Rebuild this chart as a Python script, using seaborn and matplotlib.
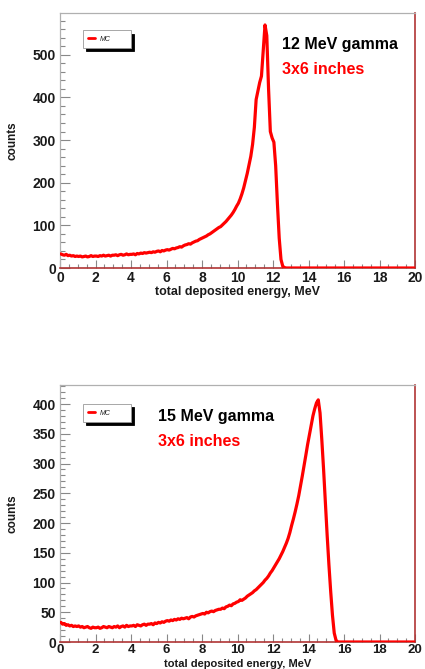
import numpy as np
import pandas as pd
import matplotlib
matplotlib.use("Agg")
import matplotlib.pyplot as plt
from matplotlib.ticker import MultipleLocator
import seaborn as sns

# ---------------- data ----------------
bin_edges_mev = np.linspace(0.0, 20.0, 201)   # 0.1 MeV bins

counts_12mev = [
    33, 31, 30, 32, 29, 30, 28, 29, 27, 28,
    27, 28, 26, 27, 28, 26, 27, 29, 27, 28,
    28, 27, 29, 28, 30, 28, 29, 30, 28, 30,
    30, 31, 29, 31, 32, 30, 31, 33, 31, 32,
    32, 33, 31, 34, 33, 35, 34, 36, 35, 36,
    37, 36, 38, 37, 39, 40, 38, 41, 40, 42,
    43, 42, 44, 46, 45, 47, 48, 50, 49, 52,
    54, 55, 57, 56, 59, 61, 63, 64, 67, 69,
    71, 73, 75, 78, 80, 83, 86, 89, 92, 95,
    97, 101, 105, 109, 114, 119, 124, 130, 137, 145,
    152, 162, 174, 188, 205, 222, 242, 262, 290, 330,
    395, 415, 435, 450, 510, 570, 545, 420, 320, 305,
    295, 240, 150, 70, 20, 4, 1, 0, 0, 0,
    0, 0, 0, 0, 0, 0, 0, 0, 0, 0,
    0, 0, 0, 0, 0, 0, 0, 0, 0, 0,
    0, 0, 0, 0, 0, 0, 0, 0, 0, 0,
    0, 0, 0, 0, 0, 0, 0, 0, 0, 0,
    0, 0, 0, 0, 0, 0, 0, 0, 0, 0,
    0, 0, 0, 0, 0, 0, 0, 0, 0, 0,
    0, 0, 0, 0, 0, 0, 0, 0, 0, 0,
]

counts_15mev = [
    33, 30, 31, 28, 29, 27, 28, 26, 27, 26,
    27, 25, 26, 24, 25, 26, 24, 23, 25, 24,
    24, 25, 23, 24, 26, 25, 24, 26, 25, 24,
    26, 25, 27, 24, 26, 27, 25, 28, 26, 27,
    27, 28, 26, 29, 28, 27, 29, 30, 28, 30,
    30, 31, 29, 32, 31, 33, 32, 34, 33, 35,
    36, 35, 37, 36, 38, 37, 39, 38, 40, 39,
    40, 41, 39, 42, 43, 42, 44, 45, 46, 47,
    48, 47, 50, 49, 51, 52, 51, 53, 54, 55,
    55, 57, 56, 59, 60, 62, 61, 64, 65, 67,
    68, 71, 70, 72, 74, 77, 79, 81, 83, 86,
    88, 91, 94, 97, 100, 104, 107, 111, 116, 120,
    125, 130, 135, 140, 146, 152, 159, 166, 174, 184,
    196, 207, 219, 232, 246, 262, 279, 296, 314, 332,
    348, 365, 380, 392, 402, 407, 385, 340, 290, 235,
    180, 130, 85, 45, 15, 3, 0, 0, 0, 0,
    0, 0, 0, 0, 0, 0, 0, 0, 0, 0,
    0, 0, 0, 0, 0, 0, 0, 0, 0, 0,
    0, 0, 0, 0, 0, 0, 0, 0, 0, 0,
    0, 0, 0, 0, 0, 0, 0, 0, 0, 0,
]

x_tick_labels = ["0", "2", "4", "6", "8", "10", "12", "14", "16", "18", "20"]
panel_titles = ["12 MeV gamma", "15 MeV gamma"]
panel_subtitles = ["3x6 inches", "3x6 inches"]
legend_label = "MC"
x_label = "total deposited energy, MeV"
y_label = "counts"

# ---------------- style ----------------
sns.set_theme(style="white")
plt.rcParams["font.family"] = ["Liberation Sans", "DejaVu Sans"]

centers = 0.5 * (bin_edges_mev[:-1] + bin_edges_mev[1:])

fig = plt.figure(figsize=(4.25, 6.69), dpi=100)
ax_top = fig.add_axes([60 / 425, (669 - 268) / 669, 355 / 425, 255 / 669])
ax_bot = fig.add_axes([60 / 425, (669 - 642) / 669, 355 / 425, 257 / 669])

panels = [
    dict(ax=ax_top, counts=counts_12mev, ymax=598, major=100, minor=20,
         title=panel_titles[0], sub=panel_subtitles[0],
         tx=282, ty=44, sy=69, leg_top=33, ax_top_px=13, ax_bot_px=268,
         xsize=10, xpad=2.0, labsize=9),
    dict(ax=ax_bot, counts=counts_15mev, ymax=432, major=50, minor=10,
         title=panel_titles[1], sub=panel_subtitles[1],
         tx=158, ty=416.5, sy=441, leg_top=407, ax_top_px=385, ax_bot_px=642,
         xsize=9.5, xpad=1.2, labsize=8),
]

for p in panels:
    ax = p["ax"]
    df = pd.DataFrame({"energy": centers, "counts": p["counts"]})
    sns.lineplot(data=df, x="energy", y="counts", ax=ax, color="#ff0000",
                 linewidth=2.3, label=legend_label, estimator=None,
                 zorder=3, clip_on=True)
    ax.set_xlim(0, 20)
    ax.set_ylim(0, p["ymax"])
    ax.xaxis.set_major_locator(MultipleLocator(2))
    ax.xaxis.set_minor_locator(MultipleLocator(0.5))
    ax.yaxis.set_major_locator(MultipleLocator(p["major"]))
    ax.yaxis.set_minor_locator(MultipleLocator(p["minor"]))
    ax.set_xticks(np.arange(0, 21, 2))
    ax.set_xticklabels(x_tick_labels)
    ax.tick_params(axis="x", which="major", direction="in", length=5.5,
                   width=0.8, color="#888888", pad=p["xpad"],
                   labelsize=p["xsize"], top=False, bottom=True)
    ax.tick_params(axis="x", which="minor", direction="in", length=2.8,
                   width=0.8, color="#888888", top=False, bottom=True)
    ax.tick_params(axis="y", which="major", direction="in", length=7.2,
                   width=0.8, color="#888888", pad=3, labelsize=10,
                   left=True, right=False)
    ax.tick_params(axis="y", which="minor", direction="in", length=3.6,
                   width=0.8, color="#888888", left=True, right=False)
    for lab in ax.get_xticklabels() + ax.get_yticklabels():
        lab.set_fontweight("bold")
        lab.set_color("#1a1a1a")

    for side in ["left", "top"]:
        ax.spines[side].set_color("#b0b0b0")
        ax.spines[side].set_linewidth(0.9)
    for side in ["right", "bottom"]:
        ax.spines[side].set_color("#b03535")
        ax.spines[side].set_linewidth(1.2)

    h = p["ax_bot_px"] - p["ax_top_px"]
    def to_ax_y(py, p=p, h=h):
        return (p["ax_bot_px"] - py) / h

    ax.set_xlabel(x_label, fontsize=p["labsize"], fontweight="bold",
                  color="#1a1a1a")
    if ax is ax_top:
        ax.xaxis.set_label_coords(0.5, -0.072)
        ax.xaxis.label.set_va("top")
    else:
        # keep the label fully inside the figure, flush with the bottom edge
        ax.xaxis.set_label_coords(0.5, to_ax_y(668.6))
        ax.xaxis.label.set_va("bottom")
    ax.set_ylabel(y_label, fontsize=8.5, fontweight="bold", color="#1a1a1a")
    ax.yaxis.set_label_coords(-0.118, 0.5)

    ax.text((p["tx"] - 60) / 355, to_ax_y(p["ty"]), p["title"],
            transform=ax.transAxes, fontsize=11.5, fontweight="bold",
            color="black", ha="left", va="center")
    ax.text((p["tx"] - 60) / 355, to_ax_y(p["sy"]), p["sub"],
            transform=ax.transAxes, fontsize=11.5, fontweight="bold",
            color="#ff0000", ha="left", va="center")

    leg = ax.legend(loc="upper left",
                    bbox_to_anchor=((83 - 60) / 355, to_ax_y(p["leg_top"]),
                                    48 / 355, 0.01),
                    mode="expand", fontsize=5, handlelength=1.0,
                    handletextpad=0.6, borderpad=0.75, borderaxespad=0,
                    fancybox=False, framealpha=1, edgecolor="#999999",
                    shadow={"facecolor": "black", "edgecolor": "black",
                            "alpha": 1.0, "ox": 2.2, "oy": -2.2})
    leg.get_frame().set_linewidth(0.6)
    for t in leg.get_texts():
        t.set_fontstyle("italic")
    for ln in leg.get_lines():
        ln.set_linewidth(2.0)

fig.savefig("out.png", dpi=100, facecolor="white")
